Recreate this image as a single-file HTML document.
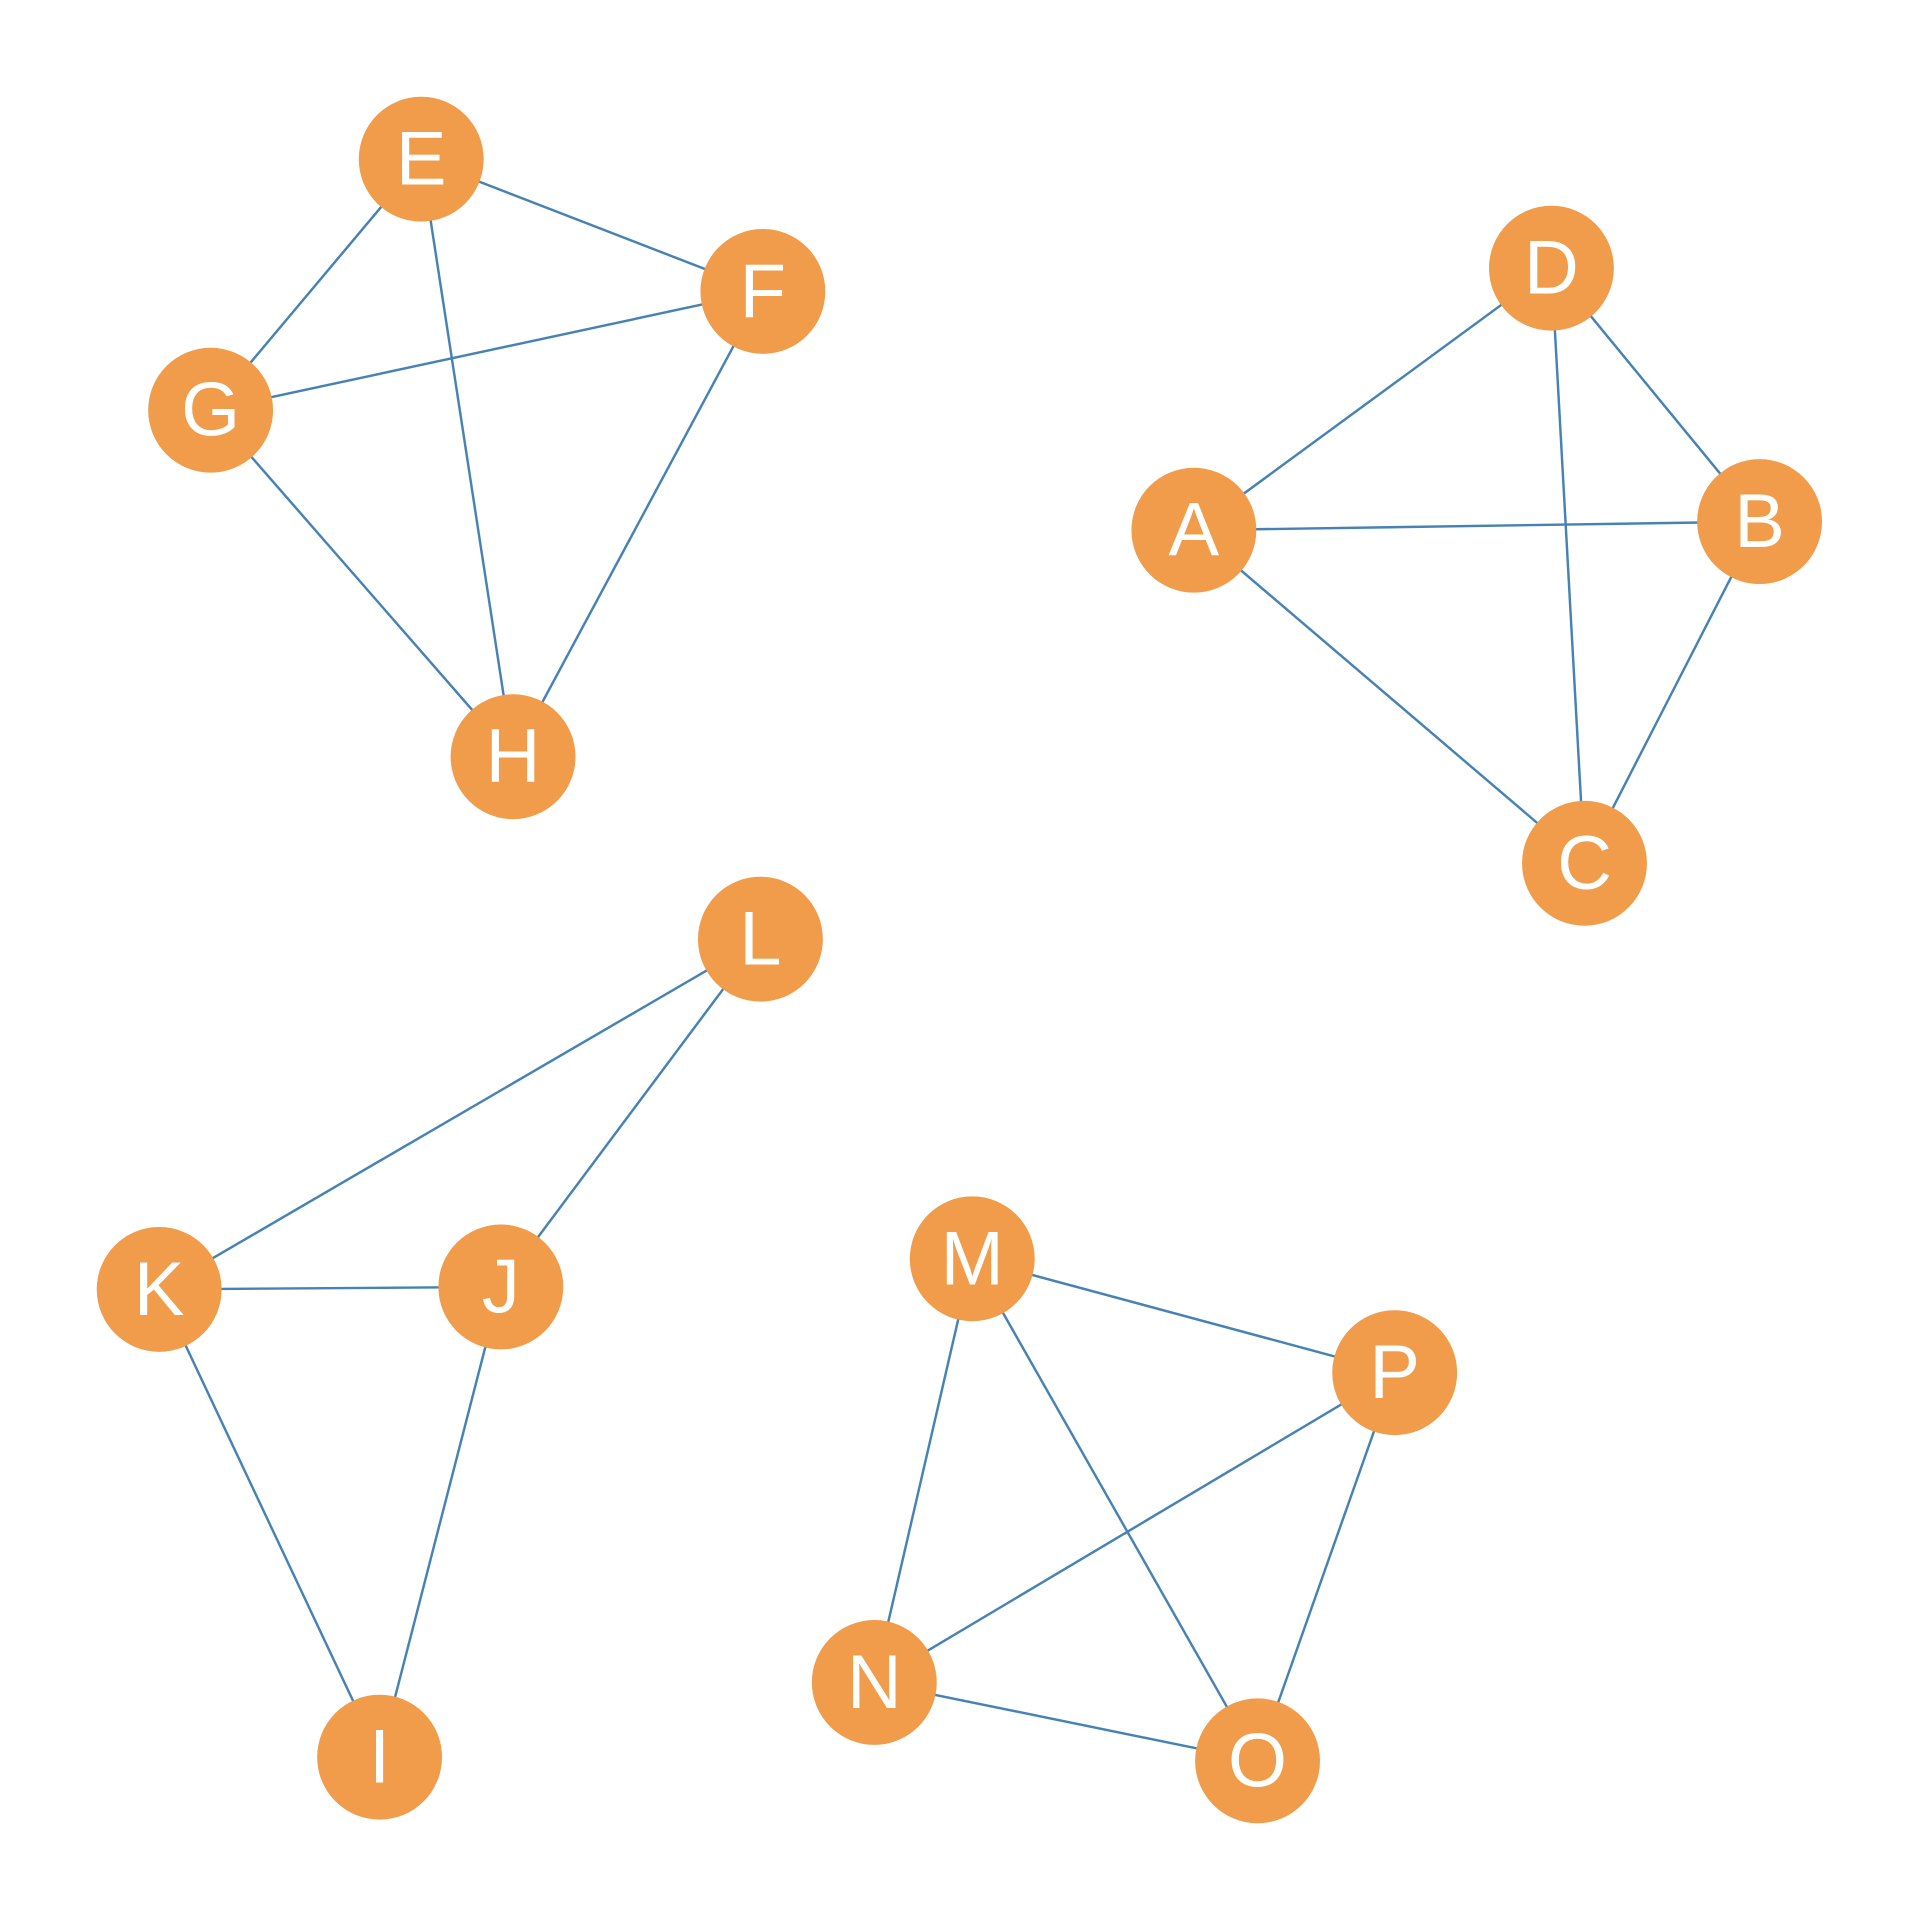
<!DOCTYPE html>
<html><head><meta charset="utf-8"><style>html,body{margin:0;padding:0;background:#fff}svg{display:block}</style></head>
<body>
<svg width="1920" height="1920" viewBox="0 0 1568 1568" xmlns="http://www.w3.org/2000/svg">
<g stroke="#4682b4" stroke-width="2">
<line x1="344" y1="130" x2="623" y2="238"/>
<line x1="344" y1="130" x2="172" y2="335"/>
<line x1="344" y1="130" x2="419" y2="618"/>
<line x1="172" y1="335" x2="623" y2="238"/>
<line x1="172" y1="335" x2="419" y2="618"/>
<line x1="623" y1="238" x2="419" y2="618"/>
<line x1="1267" y1="219" x2="975" y2="433"/>
<line x1="1267" y1="219" x2="1437" y2="426"/>
<line x1="1267" y1="219" x2="1294" y2="705"/>
<line x1="975" y1="433" x2="1437" y2="426"/>
<line x1="975" y1="433" x2="1294" y2="705"/>
<line x1="1437" y1="426" x2="1294" y2="705"/>
<line x1="621" y1="767" x2="130" y2="1053"/>
<line x1="621" y1="767" x2="409" y2="1051"/>
<line x1="130" y1="1053" x2="409" y2="1051"/>
<line x1="130" y1="1053" x2="310" y2="1435"/>
<line x1="409" y1="1051" x2="310" y2="1435"/>
<line x1="794" y1="1028" x2="1139" y2="1121"/>
<line x1="794" y1="1028" x2="714" y2="1374"/>
<line x1="794" y1="1028" x2="1027" y2="1438"/>
<line x1="1139" y1="1121" x2="714" y2="1374"/>
<line x1="1139" y1="1121" x2="1027" y2="1438"/>
<line x1="714" y1="1374" x2="1027" y2="1438"/>
</g>
<g fill="#f09c4a">
<circle cx="344" cy="130" r="51"/><circle cx="623" cy="238" r="51"/><circle cx="172" cy="335" r="51"/><circle cx="419" cy="618" r="51"/>
<circle cx="1267" cy="219" r="51"/><circle cx="975" cy="433" r="51"/><circle cx="1437" cy="426" r="51"/><circle cx="1294" cy="705" r="51"/>
<circle cx="621" cy="767" r="51"/><circle cx="130" cy="1053" r="51"/><circle cx="409" cy="1051" r="51"/><circle cx="310" cy="1435" r="51"/>
<circle cx="794" cy="1028" r="51"/><circle cx="1139" cy="1121" r="51"/><circle cx="714" cy="1374" r="51"/><circle cx="1027" cy="1438" r="51"/>
</g>
<g fill="#fff" font-family="Liberation Sans, sans-serif" font-size="62" text-anchor="middle" dominant-baseline="central">
<text x="344" y="130">E</text><text x="623" y="238">F</text><text x="172" y="335">G</text><text x="419" y="618">H</text>
<text x="1267" y="219">D</text><text x="975" y="433">A</text><text x="1437" y="426">B</text><text x="1294" y="705">C</text>
<text x="621" y="767">L</text><text x="130" y="1053">K</text><text x="409" y="1051">J</text><text x="310" y="1435">I</text>
<text x="794" y="1028">M</text><text x="1139" y="1121">P</text><text x="714" y="1374">N</text><text x="1027" y="1438">O</text>
</g>
</svg>
</body></html>
